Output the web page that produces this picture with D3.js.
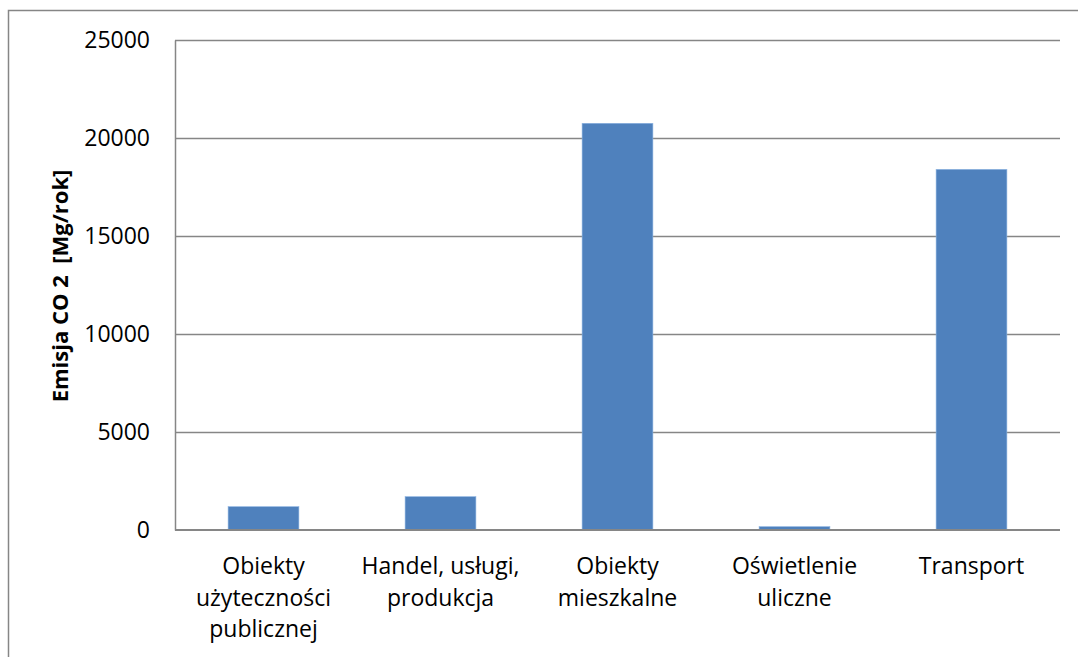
<!DOCTYPE html>
<html>
<head>
<meta charset="utf-8">
<script src="https://cdn.jsdelivr.net/npm/d3@7"></script>
<style>
  body { margin: 0; background: #fff; }
  svg text { font-family: "Open Sans", "Noto Sans", sans-serif; fill: #000; }
</style>
</head>
<body>
<div id="chart"></div>
<script>
// chart data
let categories = [
  ["Obiekty", "użyteczności", "publicznej"],
  ["Handel, usługi,", "produkcja"],
  ["Obiekty", "mieszkalne"],
  ["Oświetlenie", "uliczne"],
  ["Transport"]
];
let emissions = [1190, 1700, 20750, 170, 18400];
let yTicks = [0, 5000, 10000, 15000, 20000, 25000];
let yTitle = "Emisja CO 2  [Mg/rok]";

// set svg width and height
let svgWidth = 1078;
let svgHeight = 657;

let margin = { top: 40, right: 18, bottom: 127, left: 175 };
let width = svgWidth - margin.left - margin.right;
let height = svgHeight - margin.top - margin.bottom;

let svg = d3.select("#chart")
  .append("svg")
  .attr("width", svgWidth)
  .attr("height", svgHeight);

// outer chart border
svg.append("rect")
  .attr("x", 8.5)
  .attr("y", 10.5)
  .attr("width", svgWidth)
  .attr("height", svgHeight)
  .attr("fill", "none")
  .attr("stroke", "#868686")
  .attr("stroke-width", 1.5);

let g = svg.append("g")
  .attr("transform", `translate(${margin.left}, ${margin.top})`);

// scales
let xScale = d3.scaleBand()
  .domain(d3.range(categories.length))
  .range([0, width])
  .padding(0);

let yScale = d3.scaleLinear()
  .domain([0, 25000])
  .range([height, 0]);

// gridlines
g.append("g")
  .selectAll("line")
  .data(yTicks.filter(d => d > 0))
  .enter()
  .append("line")
  .attr("x1", 0)
  .attr("x2", width)
  .attr("y1", d => Math.round(yScale(d)) + 0.5)
  .attr("y2", d => Math.round(yScale(d)) + 0.5)
  .attr("stroke", "#868686")
  .attr("stroke-width", 1.5);

// y axis
let leftAxis = d3.axisLeft(yScale)
  .tickValues(yTicks)
  .tickSize(0)
  .tickPadding(25)
  .tickFormat(d3.format("d"));

let yAxisG = g.append("g").call(leftAxis);
yAxisG.select(".domain").attr("stroke", "#868686").attr("stroke-width", 1.5);
yAxisG.selectAll("text")
  .attr("font-size", 23)
  .attr("font-family", "Open Sans, sans-serif");

// bars
g.selectAll("rect.bar")
  .data(emissions)
  .enter()
  .append("rect")
  .attr("class", "bar")
  .attr("x", (d, i) => xScale(i) + xScale.bandwidth() * 0.3)
  .attr("width", xScale.bandwidth() * 0.4)
  .attr("y", d => yScale(d))
  .attr("height", d => height - yScale(d))
  .attr("fill", "#4F81BD")
  .attr("stroke", "#8db3e2")
  .attr("stroke-width", 0.6);

// x axis line
g.append("line")
  .attr("x1", 0)
  .attr("x2", width)
  .attr("y1", height)
  .attr("y2", height)
  .attr("stroke", "#868686")
  .attr("stroke-width", 2);

// category labels
let labels = g.selectAll("text.cat")
  .data(categories)
  .enter()
  .append("text")
  .attr("class", "cat")
  .attr("text-anchor", "middle")
  .attr("font-size", 23)
  .attr("transform", (d, i) => `translate(${xScale(i) + xScale.bandwidth() / 2}, ${height + 44})`);

labels.selectAll("tspan")
  .data(d => d)
  .enter()
  .append("tspan")
  .attr("x", 0)
  .attr("y", (d, i) => i * 31.5)
  .text(d => d);

// y axis title
svg.append("text")
  .attr("transform", `translate(68, ${margin.top + height / 2 + 1}) rotate(-90)`)
  .attr("text-anchor", "middle")
  .attr("font-size", 22)
  .attr("font-weight", "bold")
  .style("white-space", "pre")
  .text(yTitle);
</script>
</body>
</html>
